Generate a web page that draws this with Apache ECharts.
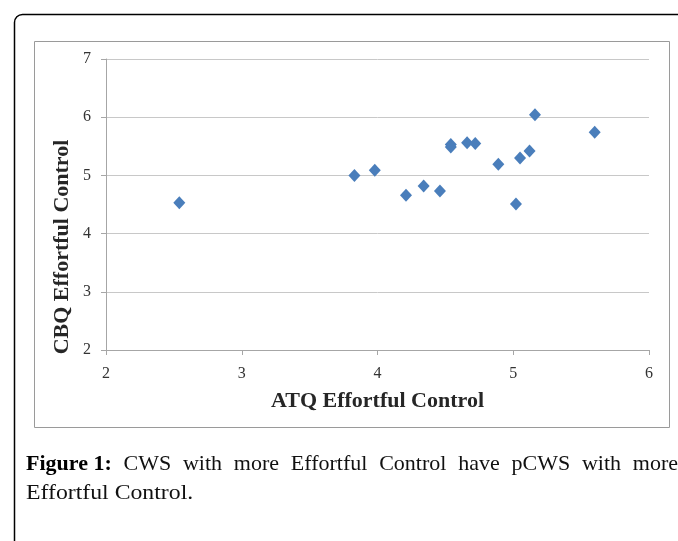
<!DOCTYPE html>
<html>
<head>
<meta charset="utf-8">
<script src="https://cdn.jsdelivr.net/npm/echarts@6/dist/echarts.min.js"></script>
<style>
html,body{margin:0;padding:0;background:#fff;}
#chart{width:678px;height:541px;}
</style>
</head>
<body>
<div id="chart"></div>
<script>
const atqEffortfulControl = [2.54, 3.83, 3.98, 4.21, 4.34, 4.46, 4.54, 4.54, 4.66, 4.72, 4.89, 5.02, 5.05, 5.12, 5.16, 5.60];
const cbqEffortfulControl = [4.53, 5.00, 5.09, 4.66, 4.82, 4.73, 5.53, 5.49, 5.56, 5.55, 5.19, 4.51, 5.30, 5.42, 6.04, 5.74];
const xTicks = [2, 3, 4, 5, 6];
const yTicks = [2, 3, 4, 5, 6, 7];
const xTitle = 'ATQ Effortful Control';
const yTitle = 'CBQ Effortful Control';
const captionBold = 'Figure 1:';
const captionLine1 = 'CWS with more Effortful Control have pCWS with more';
const captionLine2 = 'Effortful Control.';

const points = atqEffortfulControl.map((x, i) => [x, cbqEffortfulControl[i]]);
const serif = '"Liberation Serif", "DejaVu Serif", serif';
const capSize = 22;
const capStretch = 1.08;

// justify the first caption line across the available width
const ctx = document.createElement('canvas').getContext('2d');
function measure(t, bold) {
  ctx.font = (bold ? 'bold ' : '') + capSize + 'px ' + serif;
  return ctx.measureText(t).width;
}
const words = captionLine1.split(' ');
const lineLeft = 26, lineRight = 678;
let used = measure(captionBold, true);
words.forEach(w => used += measure(w, false));
const gapW = (lineRight - lineLeft - used) / words.length;
let richText = '{b|' + captionBold + '}';
words.forEach(w => { richText += '{sp| }{r|' + w + '}'; });

const chart = echarts.init(document.getElementById('chart'), null, {renderer: 'canvas'});
chart.setOption({
  animation: false,
  backgroundColor: '#fff',
  grid: {left: 106, right: 29, top: 59, bottom: 191, containLabel: false},
  xAxis: {
    type: 'value',
    min: xTicks[0], max: xTicks[xTicks.length - 1], interval: 1,
    name: xTitle, nameLocation: 'middle', nameGap: 40,
    nameTextStyle: {fontFamily: serif, fontWeight: 'bold', fontSize: 22, color: '#262626'},
    axisLine: {show: true, onZero: false, lineStyle: {color: '#a6a6a6', width: 1}},
    axisTick: {show: true, length: 5, lineStyle: {color: '#a6a6a6'}},
    axisLabel: {fontFamily: serif, fontSize: 16, color: '#333', margin: 16},
    splitLine: {show: false}
  },
  yAxis: {
    type: 'value',
    min: yTicks[0], max: yTicks[yTicks.length - 1], interval: 1,
    axisLine: {show: true, onZero: false, lineStyle: {color: '#a6a6a6', width: 1}},
    axisTick: {show: true, length: 5, lineStyle: {color: '#a6a6a6'}},
    axisLabel: {fontFamily: serif, fontSize: 16, color: '#333', margin: 15},
    splitLine: {show: true, lineStyle: {color: '#c8c8c8', width: 1}}
  },
  series: [{
    type: 'scatter',
    data: points,
    symbol: 'diamond',
    symbolSize: [12, 13],
    itemStyle: {color: '#4A7EBB', opacity: 1}
  }],
  graphic: [
    {type: 'rect', shape: {x: 14.5, y: 14.5, width: 720, height: 600, r: 8}, style: {fill: 'none', stroke: '#000', lineWidth: 1.5}, z: -1},
    {type: 'rect', shape: {x: 34.5, y: 41.5, width: 635, height: 386}, style: {fill: 'none', stroke: '#9a9a9a', lineWidth: 1}, z: -1},
    {type: 'text', x: 62, y: 247, rotation: Math.PI / 2, style: {
      text: yTitle, fontFamily: serif, fontWeight: 'bold', fontSize: 22, fill: '#262626',
      align: 'center', verticalAlign: 'middle'
    }},
    {type: 'text', x: lineLeft, y: 453, style: {
      text: richText,
      rich: {
        b: {fontFamily: serif, fontWeight: 'bold', fontSize: capSize, fill: '#000'},
        r: {fontFamily: serif, fontSize: capSize, fill: '#111'},
        sp: {fontFamily: serif, fontSize: capSize, width: gapW}
      }
    }},
    {type: 'text', x: lineLeft, y: 482, scaleX: capStretch, style: {text: captionLine2, fontFamily: serif, fontSize: capSize, fill: '#111'}}
  ]
});
</script>
</body>
</html>
